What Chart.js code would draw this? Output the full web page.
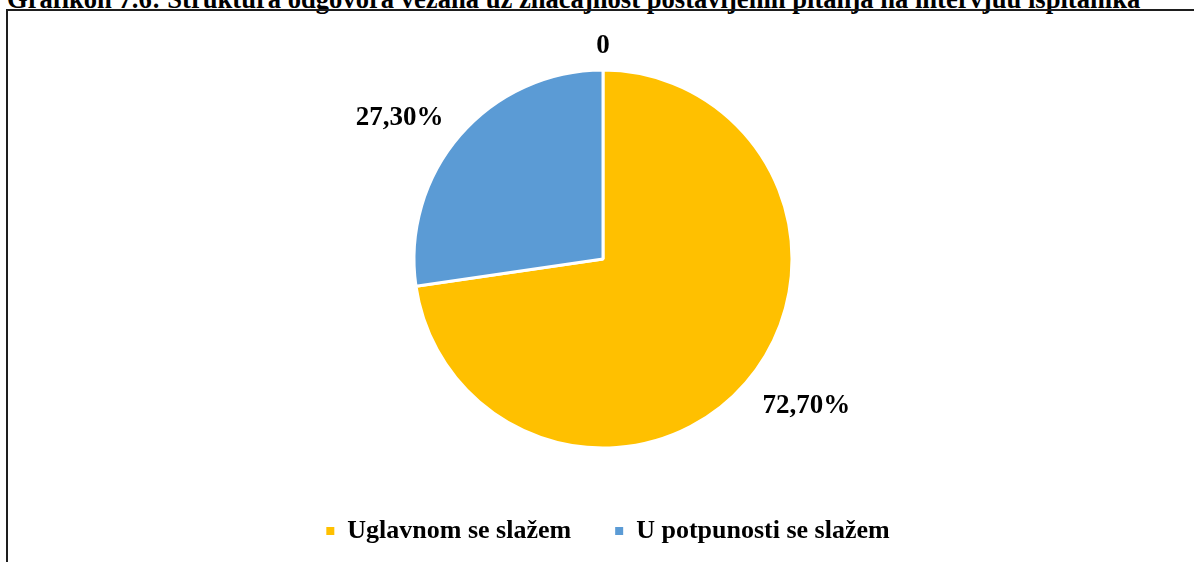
<!DOCTYPE html>
<html lang="hr">
<head>
<meta charset="utf-8">
<title>Grafikon 7.6</title>
<script src="https://cdn.jsdelivr.net/npm/chart.js@4.4.1/dist/chart.umd.min.js"></script>
<style>
  html, body { margin: 0; padding: 0; background: #fff; overflow: hidden; }
  body { width: 1194px; height: 562px; position: relative; }
  #caption {
    position: absolute; left: 7px; top: -16px;
    font: bold 26.6px/30px "Liberation Serif", "Times New Roman", serif;
    color: #000; white-space: nowrap;
  }
  #frame {
    position: absolute; left: 6px; top: 9px; width: 1400px; height: 800px;
    border: 2px solid #1e1e1e; box-sizing: border-box;
  }
  #wrap { position: absolute; left: 0; top: 0; width: 1194px; height: 562px; }
</style>
</head>
<body>
<div id="caption">Grafikon 7.6: Struktura odgovora vezana uz značajnost postavljenih pitanja na intervjuu ispitanika</div>
<div id="frame"></div>
<div id="wrap"><canvas id="chart" width="1194" height="562"></canvas></div>
<script>
// Answer categories (the third one is empty and has no share)
const categories = ['Uglavnom se slažem', 'U potpunosti se slažem', ''];
// Share of respondents per category, in percent
const shares = [72.7, 27.3, 0];
const sliceColors = ['#FFC000', '#5B9BD5', '#A5A5A5'];

const serif = '"Liberation Serif", "Times New Roman", serif';

function formatShare(v) {
  return v === 0 ? '0' : v.toFixed(2).replace('.', ',') + '%';
}

// Value labels placed just outside each slice, along its middle angle
const outsideLabels = {
  id: 'outsideLabels',
  afterDatasetsDraw(chart) {
    const ctx = chart.ctx;
    const meta = chart.getDatasetMeta(0);
    const values = chart.data.datasets[0].data;
    const capH = 18;
    ctx.save();
    ctx.font = 'bold 27px ' + serif;
    ctx.fillStyle = '#000';
    ctx.textBaseline = 'alphabetic';
    meta.data.forEach((arc, i) => {
      const p = arc.getProps(['x', 'y', 'startAngle', 'endAngle', 'outerRadius'], true);
      const mid = (p.startAngle + p.endAngle) / 2;
      const c = Math.cos(mid), s = Math.sin(mid);
      const d = p.outerRadius + 18;
      const ax = p.x + c * d, ay = p.y + s * d;
      ctx.textAlign = c > 0.25 ? 'left' : (c < -0.25 ? 'right' : 'center');
      const by = s > 0.25 ? ay + capH : (s < -0.25 ? ay : ay + capH / 2);
      const dx = c > 0.25 ? 3 : (c < -0.25 ? -3 : 0);
      ctx.fillText(formatShare(values[i]), ax + dx, by + (s < -0.25 ? 1 : 1));
    });
    ctx.restore();
  }
};

// Nudge the legend row slightly to the right of the pie's centre line
const legendShift = {
  id: 'legendShift',
  afterLayout(chart) {
    if (chart.legend) {
      chart.legend.left += 5;
      chart.legend.right += 5;
    }
  }
};

new Chart(document.getElementById('chart'), {
  type: 'pie',
  data: {
    labels: categories,
    datasets: [{
      data: shares,
      backgroundColor: sliceColors,
      borderColor: '#ffffff',
      borderWidth: 3
    }]
  },
  options: {
    responsive: false,
    animation: false,
    events: [],
    radius: 189,
    layout: { padding: { top: 44, bottom: 8, left: 12, right: 0 } },
    plugins: {
      title: { display: false },
      tooltip: { enabled: false },
      legend: {
        position: 'bottom',
        labels: {
          color: '#000',
          boxWidth: 8,
          boxHeight: 8,
          padding: 44,
          font: { family: serif, size: 26, weight: 'bold' },
          generateLabels(chart) {
            const base = Chart.overrides.pie.plugins.legend.labels.generateLabels(chart);
            return base.map(item => Object.assign(item, { lineWidth: 0 }));
          },
          filter: item => item.text !== ''
        }
      }
    }
  },
  plugins: [outsideLabels, legendShift]
});
</script>
</body>
</html>
